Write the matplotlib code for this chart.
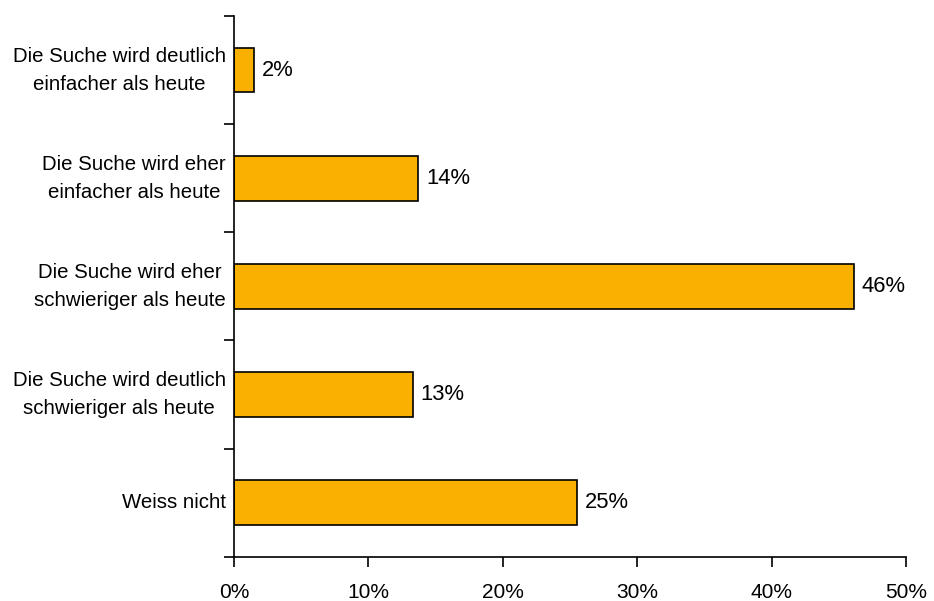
import matplotlib.pyplot as plt
import numpy as np
from matplotlib.ticker import FixedLocator, PercentFormatter

plt.rcParams['font.family'] = ['Liberation Sans', 'DejaVu Sans']

categories = ['Die Suche wird deutlich\neinfacher als heute',
              'Die Suche wird eher\neinfacher als heute',
              'Die Suche wird eher\nschwieriger als heute',
              'Die Suche wird deutlich\nschwieriger als heute',
              'Weiss nicht']
values = [1.5, 13.7, 46.1, 13.3, 25.5]
labels = ['2%', '14%', '46%', '13%', '25%']

fig = plt.figure(figsize=(9.34, 6.01), dpi=100)
ax = fig.add_axes([0.2505, 0.0737, 0.7195, 0.8997])

y = np.arange(len(categories))[::-1]
ax.barh(y, values, height=0.414, color='#F9B000', edgecolor='black', linewidth=1.2)

for yi, v, lab in zip(y, values, labels):
    ax.text(v + 0.6, yi, lab, va='center', ha='left', fontsize=15.8)

# category labels, centred on the bars
for yi, cat in zip(y, categories):
    ax.text(-0.012, yi, cat, transform=ax.get_yaxis_transform(),
            ha='right', va='center', multialignment='center',
            fontsize=14.7, linespacing=1.6)

ax.set_xlim(0, 50)
ax.set_ylim(-0.5, len(categories) - 0.5)
ax.set_xticks(np.arange(0, 51, 10))
ax.xaxis.set_major_formatter(PercentFormatter(decimals=0))
ax.tick_params(axis='x', labelsize=15, length=7, width=1.2, pad=12, direction='out')

ax.yaxis.set_major_locator(FixedLocator(np.arange(-0.5, len(categories), 1)))
ax.yaxis.set_major_formatter(plt.NullFormatter())
ax.tick_params(axis='y', which='major', length=7, width=1.2, direction='out')

for s in ['top', 'right']:
    ax.spines[s].set_visible(False)
for s in ['left', 'bottom']:
    ax.spines[s].set_linewidth(1.2)

fig.savefig('out.png', dpi=100)
